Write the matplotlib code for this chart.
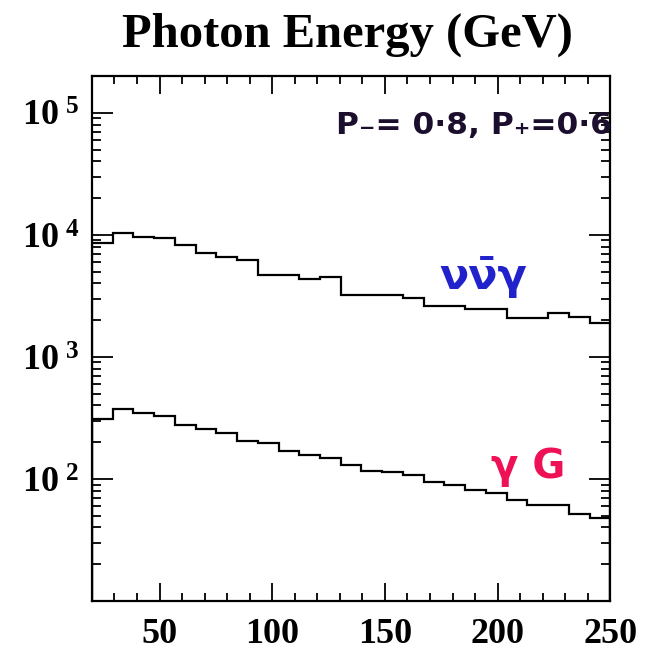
import numpy as np
import matplotlib
matplotlib.use("Agg")
import matplotlib.pyplot as plt
from matplotlib.ticker import FixedLocator, LogLocator, NullFormatter, FuncFormatter

# histogram bins (25 bins between 20 and 250 GeV)
bin_edges = np.linspace(20, 250, 26)

# nu nubar gamma background
nunu_gamma = [8550, 10330, 9680, 9400, 8280, 7080, 6520, 6240, 4700, 4650,
              4330, 4550, 3220, 3220, 3200, 3030, 2620, 2620, 2460, 2460,
              2080, 2080, 2280, 2110, 1910]
# gamma + graviton signal
gamma_G = [308, 372, 345, 328, 277, 255, 237, 206, 196, 170,
           157, 148, 130, 117, 115, 108, 95, 89, 81, 77,
           67, 61, 61, 52, 48]

x_major = [50, 100, 150, 200, 250]
y_major = [1e2, 1e3, 1e4, 1e5]

plt.rcParams['mathtext.fontset'] = 'custom'
plt.rcParams['mathtext.rm'] = 'Liberation Serif:bold'
plt.rcParams['mathtext.bf'] = 'Liberation Serif:bold'
plt.rcParams['mathtext.it'] = 'Liberation Serif:bold'

fig = plt.figure(figsize=(6.52, 6.67), dpi=100)
ax = fig.add_axes([0.141, 0.099, 0.795, 0.787])

ax.stairs(nunu_gamma, bin_edges, color='black', lw=1.6)
ax.stairs(gamma_G, bin_edges, color='black', lw=1.6)

ax.set_yscale('log')
ax.set_xlim(20, 250)
ax.set_ylim(10, 2e5)

# ticks
ax.xaxis.set_major_locator(FixedLocator(x_major))
ax.xaxis.set_minor_locator(FixedLocator(np.arange(20, 250, 10)))
ax.yaxis.set_major_locator(FixedLocator(y_major))
ax.yaxis.set_minor_locator(LogLocator(base=10, subs=np.arange(2, 10)))
ax.yaxis.set_minor_formatter(NullFormatter())
ax.yaxis.set_major_formatter(FuncFormatter(
    lambda v, p: r'$\mathbf{10}^{\ \mathbf{%d}}$' % round(np.log10(v))))

ax.tick_params(which='both', direction='in', top=True, right=True, width=1.3)
ax.tick_params(axis='x', which='major', length=13, pad=12)
ax.tick_params(axis='x', which='minor', length=6)
ax.tick_params(axis='y', which='major', length=15, pad=9)
ax.tick_params(axis='y', which='minor', length=6.5)
for lab in ax.get_xticklabels():
    lab.set_fontfamily('Liberation Serif')
    lab.set_fontweight('bold')
    lab.set_fontsize(26)
for lab in ax.get_yticklabels():
    lab.set_fontsize(26)

for sp in ax.spines.values():
    sp.set_linewidth(1.6)

fig.text(0.533, 0.948, 'Photon Energy (GeV)', ha='center', va='center',
         fontsize=35, fontweight='bold', family='Liberation Serif')

# hand-written annotations
hand = ['DejaVu Sans']
ax.text(0.47, 0.905, 'P\u208b= 0\u00b78, P\u208a=0\u00b76', transform=ax.transAxes,
        fontsize=22.5, color='#1c0f2e', ha='left', va='center', family=hand,
        fontweight='bold')
ax.text(0.67, 0.617, '\u03bd\u03bd\u0304\u03b3', transform=ax.transAxes,
        fontsize=31, color='#2222cc', ha='left', va='center', family=hand,
        fontweight='bold')
ax.text(0.77, 0.255, '\u03b3 G', transform=ax.transAxes,
        fontsize=29, color='#ee1155', ha='left', va='center', family=hand,
        fontweight='bold')

fig.savefig('out.png', dpi=100, facecolor='white')
